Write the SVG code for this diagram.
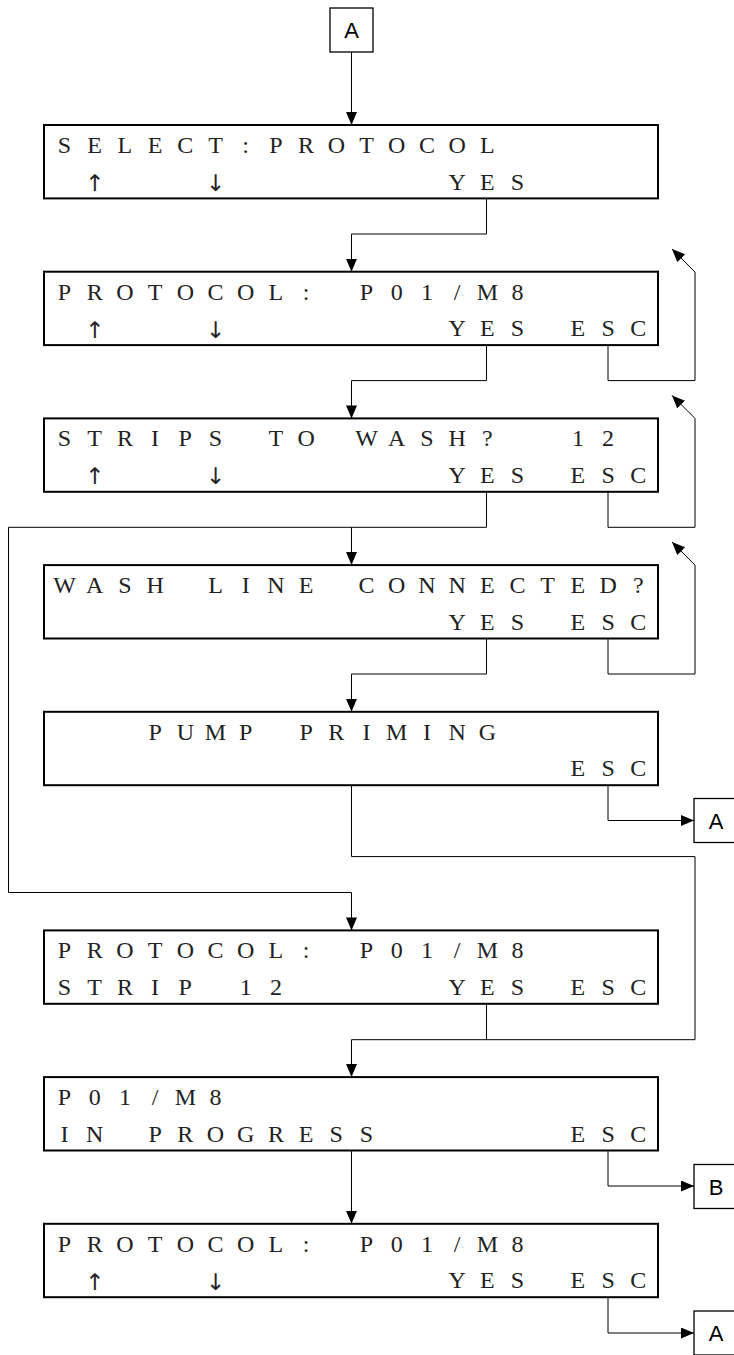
<svg xmlns="http://www.w3.org/2000/svg" width="734" height="1355" viewBox="0 0 734 1355">
<style>
.lcd{fill:#fff;stroke:#000;stroke-width:2}
.lbl{fill:#fff;stroke:#000;stroke-width:1.3}
.t{font-family:"Liberation Serif","Times New Roman",serif;font-size:24px;fill:#222;text-anchor:middle}
.ar{font-family:"DejaVu Sans",sans-serif;font-size:23px;fill:#222;text-anchor:middle}
.k{font-family:"Liberation Sans",Arial,sans-serif;font-size:22px;fill:#000;text-anchor:middle}
.c{fill:none;stroke:#000;stroke-width:1}
</style>
<defs>
<marker id="ah" markerUnits="userSpaceOnUse" markerWidth="14" markerHeight="12" refX="13" refY="5.5" orient="auto">
<path d="M0,0 L13,5.5 L0,11 z" fill="#000"/>
</marker>
</defs>

<g id="A-top"><rect class="lbl" x="330" y="8" width="43" height="44"/><text class="k" x="351.5" y="38">A</text></g>

<g id="n1"><rect class="lcd" x="44" y="125" width="614" height="73.4"/>
<text class="t" x="64.5 94.7 124.9 155.1 185.3 215.5 245.7 275.9 306.1 336.3 366.5 396.7 426.9 457.1 487.3" y="153">SELECT:PROTOCOL</text>
<text class="ar" x="94.7" y="191">↑</text><text class="ar" x="215.5" y="191">↓</text>
<text class="t" x="457.1 487.3 517.5" y="189.5">YES</text></g>

<g id="n2"><rect class="lcd" x="44" y="271.7" width="614" height="73.4"/>
<text class="t" x="64.5 94.7 124.9 155.1 185.3 215.5 245.7 275.9 306.1 336.3 366.5 396.7 426.9 457.1 487.3 517.5" y="299.7">PROTOCOL: P01/M8</text>
<text class="ar" x="94.7" y="337.7">↑</text><text class="ar" x="215.5" y="337.7">↓</text>
<text class="t" x="457.1 487.3 517.5" y="336.2">YES</text>
<text class="t" x="577.9 608.1 638.3" y="336.2">ESC</text></g>

<g id="n3"><rect class="lcd" x="44" y="418.4" width="614" height="73.4"/>
<text class="t" x="64.5 94.7 124.9 155.1 185.3 215.5 245.7 275.9 306.1 336.3 366.5 396.7 426.9 457.1 487.3" y="446.4">STRIPS TO WASH?</text>
<text class="t" x="577.9 608.1" y="446.4">12</text>
<text class="ar" x="94.7" y="484.4">↑</text><text class="ar" x="215.5" y="484.4">↓</text>
<text class="t" x="457.1 487.3 517.5" y="482.9">YES</text>
<text class="t" x="577.9 608.1 638.3" y="482.9">ESC</text></g>

<g id="n4"><rect class="lcd" x="44" y="565.1" width="614" height="73.4"/>
<text class="t" x="64.5 94.7 124.9 155.1 185.3 215.5 245.7 275.9 306.1 336.3 366.5 396.7 426.9 457.1 487.3 517.5 547.7 577.9 608.1 638.3" y="593.1">WASH LINE CONNECTED?</text>
<text class="t" x="457.1 487.3 517.5" y="629.6">YES</text>
<text class="t" x="577.9 608.1 638.3" y="629.6">ESC</text></g>

<g id="n5"><rect class="lcd" x="44" y="711.8" width="614" height="73.4"/>
<text class="t" x="155.1 185.3 215.5 245.7 275.9 306.1 336.3 366.5 396.7 426.9 457.1 487.3" y="739.8">PUMP PRIMING</text>
<text class="t" x="577.9 608.1 638.3" y="776.3">ESC</text></g>

<g id="n6"><rect class="lcd" x="44" y="930.4" width="614" height="73.4"/>
<text class="t" x="64.5 94.7 124.9 155.1 185.3 215.5 245.7 275.9 306.1 336.3 366.5 396.7 426.9 457.1 487.3 517.5" y="958.4">PROTOCOL: P01/M8</text>
<text class="t" x="64.5 94.7 124.9 155.1 185.3 215.5 245.7 275.9" y="994.9">STRIP 12</text>
<text class="t" x="457.1 487.3 517.5" y="994.9">YES</text>
<text class="t" x="577.9 608.1 638.3" y="994.9">ESC</text></g>

<g id="n7"><rect class="lcd" x="44" y="1077.1" width="614" height="73.4"/>
<text class="t" x="64.5 94.7 124.9 155.1 185.3 215.5" y="1105.1">P01/M8</text>
<text class="t" x="64.5 94.7 124.9 155.1 185.3 215.5 245.7 275.9 306.1 336.3 366.5" y="1141.6">IN PROGRESS</text>
<text class="t" x="577.9 608.1 638.3" y="1141.6">ESC</text></g>

<g id="n8"><rect class="lcd" x="44" y="1223.8" width="614" height="73.4"/>
<text class="t" x="64.5 94.7 124.9 155.1 185.3 215.5 245.7 275.9 306.1 336.3 366.5 396.7 426.9 457.1 487.3 517.5" y="1251.8">PROTOCOL: P01/M8</text>
<text class="ar" x="94.7" y="1289.8">↑</text><text class="ar" x="215.5" y="1289.8">↓</text>
<text class="t" x="457.1 487.3 517.5" y="1288.3">YES</text>
<text class="t" x="577.9 608.1 638.3" y="1288.3">ESC</text></g>

<g id="A-r1"><rect class="lbl" x="694" y="798.5" width="44" height="44"/><text class="k" x="716" y="828.5">A</text></g>
<g id="B-r"><rect class="lbl" x="694" y="1164.5" width="44" height="44"/><text class="k" x="716" y="1194.5">B</text></g>
<g id="A-r2"><rect class="lbl" x="694" y="1311" width="44" height="44"/><text class="k" x="716" y="1341">A</text></g>

<g id="connectors">
<path class="c" marker-end="url(#ah)" d="M351.5,52 V125"/>
<path class="c" marker-end="url(#ah)" d="M486.5,198.4 V234 H351.5 V271.7"/>
<path class="c" marker-end="url(#ah)" d="M486.5,345.1 V380.6 H351.5 V418.4"/>
<path class="c" marker-end="url(#ah)" d="M608,345.1 V380.6 H695 V272 L672,249"/>
<path class="c" marker-end="url(#ah)" d="M486.5,491.8 V527.3 H8.5 V892.5 H351.5 V930.4"/>
<path class="c" marker-end="url(#ah)" d="M351.5,527.3 V565.1"/>
<path class="c" marker-end="url(#ah)" d="M608,491.8 V527.3 H695 V418.4 L672,395.4"/>
<path class="c" marker-end="url(#ah)" d="M486.5,638.5 V674 H351.5 V711.8"/>
<path class="c" marker-end="url(#ah)" d="M608,638.5 V674 H695 V565.1 L672,542"/>
<path class="c" marker-end="url(#ah)" d="M608,785.2 V820.5 H694"/>
<path class="c" marker-end="url(#ah)" d="M351.5,785.2 V856.6 H695 V1039.7 H351.5 V1077.1"/>
<path class="c" d="M486.5,1003.8 V1039.7"/>
<path class="c" marker-end="url(#ah)" d="M351.5,1150.5 V1223.8"/>
<path class="c" marker-end="url(#ah)" d="M608,1150.5 V1186 H694"/>
<path class="c" marker-end="url(#ah)" d="M608,1297.2 V1333 H694"/>
</g>
</svg>
